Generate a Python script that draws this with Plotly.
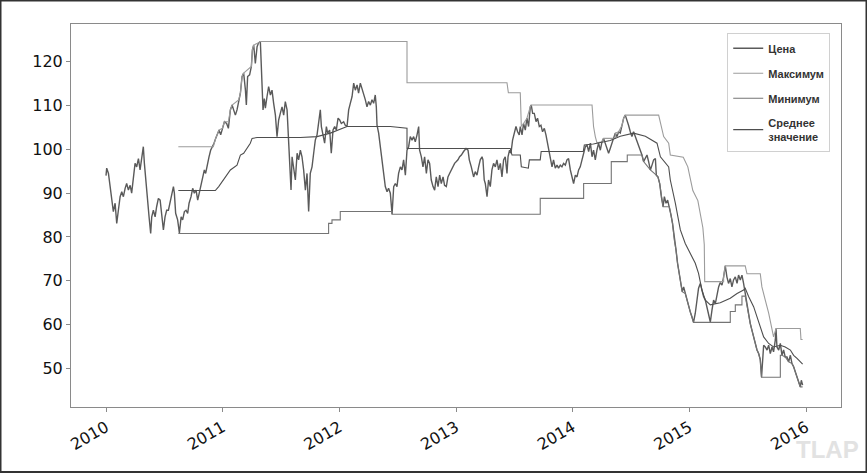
import plotly.graph_objects as go

# ---------------- data (decimal years) ----------------
price_t = [
 2010.000,2010.006,2010.021,2010.035,2010.049,2010.063,2010.078,2010.092,2010.106,2010.121,
 2010.135,2010.149,2010.164,2010.177,2010.192,2010.207,2010.220,2010.235,2010.249,2010.263,
 2010.278,2010.292,2010.306,2010.320,2010.329,2010.340,2010.357,2010.369,2010.383,2010.392,
 2010.406,2010.421,2010.434,2010.449,2010.464,2010.477,2010.492,2010.506,2010.520,2010.535,
 2010.549,2010.563,2010.578,2010.586,2010.597,2010.614,2010.629,2010.644,2010.657,2010.672,
 2010.686,2010.700,2010.712,2010.729,2010.743,2010.757,2010.772,2010.786,2010.800,2010.815,
 2010.829,2010.843,2010.854,2010.869,2010.883,2010.897,2010.912,2010.926,2010.940,2010.955,
 2010.969,2010.983,2010.997,2011.015,2011.034,2011.049,2011.066,2011.081,2011.094,2011.109,
 2011.123,2011.137,2011.152,2011.166,2011.180,2011.195,2011.203,2011.214,2011.231,2011.246,
 2011.255,2011.266,2011.274,2011.280,2011.295,2011.308,2011.323,2011.331,2011.338,2011.346,
 2011.357,2011.366,2011.380,2011.394,2011.409,2011.423,2011.437,2011.452,2011.466,2011.480,
 2011.494,2011.509,2011.523,2011.537,2011.552,2011.566,2011.574,2011.586,2011.595,2011.608,
 2011.623,2011.638,2011.651,2011.666,2011.680,2011.694,2011.709,2011.723,2011.737,2011.751,
 2011.766,2011.780,2011.794,2011.809,2011.823,2011.837,2011.846,2011.860,2011.874,2011.889,
 2011.900,2011.917,2011.931,2011.946,2011.960,2011.974,2011.989,2012.003,2012.017,2012.037,
 2012.051,2012.066,2012.080,2012.094,2012.109,2012.123,2012.137,2012.152,2012.165,2012.180,
 2012.195,2012.208,2012.223,2012.237,2012.251,2012.266,2012.280,2012.294,2012.308,2012.317,
 2012.323,2012.337,2012.351,2012.366,2012.380,2012.394,2012.409,2012.422,2012.437,2012.452,
 2012.466,2012.480,2012.494,2012.508,2012.523,2012.537,2012.551,2012.566,2012.580,2012.594,
 2012.608,2012.623,2012.637,2012.651,2012.666,2012.680,2012.688,2012.703,2012.717,2012.731,
 2012.746,2012.760,2012.774,2012.788,2012.803,2012.817,2012.831,2012.846,2012.860,2012.874,
 2012.889,2012.902,2012.917,2012.931,2012.945,2012.960,2012.974,2012.988,2013.003,2013.017,
 2013.031,2013.046,2013.065,2013.086,2013.103,2013.114,2013.131,2013.151,2013.165,2013.180,
 2013.194,2013.208,2013.223,2013.231,2013.242,2013.251,2013.266,2013.279,2013.294,2013.308,
 2013.322,2013.337,2013.351,2013.365,2013.380,2013.394,2013.408,2013.422,2013.437,2013.446,
 2013.459,2013.471,2013.485,2013.500,2013.514,2013.528,2013.542,2013.551,2013.566,2013.579,
 2013.594,2013.608,2013.622,2013.637,2013.645,2013.657,2013.671,2013.686,2013.699,2013.714,
 2013.728,2013.742,2013.757,2013.771,2013.785,2013.794,2013.808,2013.823,2013.836,2013.851,
 2013.866,2013.879,2013.894,2013.908,2013.922,2013.937,2013.951,2013.965,2013.980,2014.008,
 2014.023,2014.037,2014.051,2014.065,2014.080,2014.094,2014.109,2014.123,2014.137,2014.152,
 2014.166,2014.179,2014.194,2014.208,2014.222,2014.237,2014.251,2014.265,2014.280,2014.294,
 2014.308,2014.322,2014.337,2014.351,2014.365,2014.380,2014.394,2014.408,2014.423,2014.437,
 2014.451,2014.466,2014.479,2014.494,2014.508,2014.522,2014.537,2014.551,2014.565,2014.580,
 2014.594,2014.608,2014.623,2014.637,2014.651,2014.666,2014.680,2014.694,2014.709,2014.717,
 2014.731,2014.746,2014.760,2014.775,2014.786,2014.800,2014.814,2014.829,2014.843,2014.856,
 2014.871,2014.886,2014.899,2014.914,2014.928,2014.939,2014.951,2014.965,2014.979,2014.993,
 2015.008,2015.022,2015.036,2015.051,2015.065,2015.079,2015.094,2015.108,2015.122,2015.137,
 2015.151,2015.165,2015.180,2015.194,2015.208,2015.223,2015.237,2015.251,2015.265,2015.280,
 2015.294,2015.308,2015.322,2015.336,2015.351,2015.365,2015.379,2015.394,2015.409,2015.422,
 2015.437,2015.451,2015.465,2015.479,2015.494,2015.508,2015.522,2015.537,2015.551,2015.566,
 2015.580,2015.594,2015.608,2015.619,2015.630,2015.637,2015.651,2015.666,2015.680,2015.694,
 2015.709,2015.722,2015.737,2015.743,2015.751,2015.766,2015.780,2015.794,2015.808,2015.822,
 2015.837,2015.851,2015.866,2015.880,2015.894,2015.908,2015.923,2015.937,2015.951,2015.960,
 2015.971]
price_v = [
 94.0,95.7,94.5,91.5,89.2,85.8,87.7,83.1,86.1,89.2,
 90.3,89.2,91.1,92.2,90.7,91.8,90.0,93.7,96.8,96.0,
 97.9,95.3,98.3,100.6,96.8,93.0,89.2,84.6,80.8,84.6,
 86.1,84.6,86.9,88.8,88.4,85.4,81.6,84.6,86.1,86.1,
 87.7,90.0,91.5,90.0,85.4,83.9,80.9,84.6,83.9,85.8,
 86.1,85.4,87.7,89.2,91.1,90.0,90.7,88.4,90.0,91.5,
 93.7,95.3,94.5,96.8,98.3,99.8,100.6,101.4,102.5,103.7,
 104.4,103.3,104.8,106.3,105.9,104.8,109.0,110.1,109.0,107.8,
 109.0,111.3,112.8,116.6,117.4,113.5,110.1,116.6,117.0,118.9,
 122.7,123.8,121.1,119.6,123.4,124.3,124.6,118.9,115.1,109.0,
 111.6,109.4,112.0,114.3,112.4,113.5,110.5,107.8,102.9,106.7,
 108.2,109.7,107.8,110.9,109.0,102.1,98.3,90.7,98.3,95.3,
 93.0,99.1,97.6,99.8,98.3,95.3,90.7,94.5,85.8,94.5,
 96.0,99.1,102.1,103.3,105.9,109.0,105.2,102.9,101.4,105.2,
 103.7,104.4,99.1,104.4,105.2,104.4,107.1,106.7,105.9,106.3,
 105.5,105.2,109.0,110.5,112.0,115.1,113.5,114.7,112.8,115.1,
 113.9,112.8,111.3,109.7,110.9,110.1,111.3,110.5,112.4,109.7,
 105.5,103.7,100.6,97.6,95.3,91.5,90.3,91.1,90.0,85.2,
 91.5,92.2,91.5,94.5,96.0,95.3,97.6,94.1,99.8,100.6,
 102.9,102.1,102.9,101.7,103.3,105.2,99.8,98.3,96.0,98.3,
 94.5,97.6,96.8,93.0,91.5,90.7,93.7,91.5,94.1,92.2,
 93.7,91.8,91.5,93.7,94.5,95.3,96.0,96.8,97.2,97.6,
 98.3,98.7,99.5,100.2,99.8,97.6,96.0,93.7,94.9,94.1,
 96.0,97.6,98.3,97.6,93.0,92.2,89.2,93.0,91.5,95.3,
 96.8,96.0,97.6,95.3,96.8,93.7,97.6,98.3,94.5,98.3,
 99.8,99.1,102.1,103.7,105.2,104.0,103.3,105.2,103.3,105.9,
 104.4,107.1,105.2,109.7,110.1,108.2,108.2,106.3,107.1,105.2,
 105.5,104.0,104.8,103.3,101.4,99.5,98.3,96.0,97.6,95.7,
 96.4,95.7,96.4,96.0,96.8,96.4,97.6,97.9,95.3,92.2,
 94.1,93.7,95.3,96.0,97.6,99.1,100.6,101.0,99.5,101.4,
 98.3,99.8,97.6,99.8,101.4,99.8,101.7,102.5,101.4,100.2,
 99.1,100.2,101.4,102.5,103.7,102.9,104.0,103.7,105.5,107.1,
 107.8,106.7,105.5,104.0,102.9,104.0,102.9,101.7,100.9,99.8,
 98.7,97.2,97.9,98.7,97.2,95.3,96.4,97.6,97.9,94.1,
 93.7,92.2,89.2,86.9,89.2,87.7,88.4,86.9,85.0,83.1,
 79.3,77.0,74.0,71.7,68.6,67.5,68.6,67.1,65.6,64.1,
 62.9,61.8,60.5,62.6,65.6,68.3,69.4,67.5,66.4,65.6,
 64.1,62.2,60.6,63.3,65.6,64.8,67.1,68.6,69.6,69.0,
 70.9,73.4,70.9,69.4,70.5,68.6,70.2,70.9,69.4,71.3,
 70.2,71.3,69.4,67.1,64.1,61.8,60.3,58.7,57.2,55.7,
 54.2,53.4,52.0,48.0,53.0,55.3,54.9,54.2,55.3,53.4,
 54.9,53.8,56.5,59.1,54.9,54.2,55.7,53.0,54.2,52.6,
 52.6,51.5,53.0,51.1,50.4,49.2,48.1,46.6,45.8,47.3,
 46.2]

max_t = [2010.620,2010.920,2010.940,2010.955,2010.969,2010.997,2011.015,2011.049,2011.066,2011.081,
         2011.137,2011.152,2011.166,2011.180,2011.246,2011.255,2011.266,2011.308,2011.323,2012.580,
         2012.580,2013.437,2013.449,2013.551,2013.560,2013.579,2013.608,2013.637,2013.645,2014.166,
         2014.179,2014.194,2014.208,2014.251,2014.265,2014.365,2014.365,2014.394,2014.423,2014.437,
         2014.451,2014.737,2014.752,2014.780,2014.823,2014.837,2014.948,2014.987,2015.030,2015.073,
         2015.116,2015.128,2015.132,2015.294,2015.294,2015.308,2015.479,2015.494,2015.608,2015.622,
         2015.651,2015.680,2015.722,2015.743,2015.951,2015.957,2015.971]
max_v = [100.6,100.6,102.5,103.7,104.4,104.8,106.3,106.3,109.0,110.1,
         111.3,112.8,116.6,117.4,118.9,122.7,123.8,124.3,124.6,124.6,
         115.2,115.2,112.9,112.9,105.2,105.9,107.1,109.7,110.1,110.1,
         105.2,102.9,101.5,101.7,102.5,102.5,103.7,104.0,105.5,107.1,
         107.8,107.8,105.9,102.9,101.4,98.7,98.2,96.0,90.6,88.3,
         82.1,78.3,69.8,69.8,70.9,73.4,73.4,71.6,71.6,68.6,
         65.6,62.6,57.2,59.1,59.1,56.6,56.6]

min_t = [2010.620,2011.908,2011.908,2011.937,2011.937,2012.008,2012.008,2012.452,2012.452,2013.722,
         2013.722,2014.094,2014.094,2014.331,2014.331,2014.468,2014.468,2014.594,2014.608,2014.666,
         2014.717,2014.731,2014.746,2014.760,2014.775,2014.829,2014.843,2014.856,2014.871,2014.886,
         2014.899,2014.914,2014.928,2014.939,2014.965,2014.979,2014.993,2015.008,2015.022,2015.036,
         2015.351,2015.351,2015.394,2015.394,2015.451,2015.451,2015.479,2015.494,2015.508,2015.522,
         2015.537,2015.551,2015.566,2015.580,2015.594,2015.608,2015.619,2015.780,2015.780,2015.794,
         2015.822,2015.851,2015.880,2015.894,2015.908,2015.923,2015.937,2015.951,2015.971]
min_v = [80.8,80.8,83.1,83.1,83.9,83.9,85.8,85.8,85.2,85.2,
         88.8,88.8,92.2,92.2,97.2,97.2,98.7,98.7,97.2,95.3,
         94.1,93.7,92.2,89.2,86.9,86.9,85.0,83.1,79.3,77.0,
         74.0,71.7,68.6,67.5,67.1,65.6,64.1,62.9,61.8,60.5,
         60.5,63.0,63.0,64.5,64.5,66.5,66.5,64.1,61.8,60.3,
         58.7,57.2,55.7,54.2,53.4,52.0,48.0,48.0,53.0,53.0,
         52.6,51.5,51.1,50.4,49.2,48.1,46.6,45.8,45.8]

mean_t = [2010.620,2010.937,2010.966,2010.995,2011.023,2011.066,2011.123,2011.152,2011.180,2011.209,
          2011.237,2011.252,2011.295,2011.666,2011.809,2011.923,2012.066,2012.437,2012.580,2012.580,
          2013.465,2013.480,2013.551,2013.560,2013.620,2013.629,2013.722,2013.730,2014.091,2014.100,
          2014.177,2014.322,2014.408,2014.522,2014.623,2014.723,2014.752,2014.823,2014.837,2014.880,
          2014.923,2014.965,2015.008,2015.051,2015.079,2015.108,2015.137,2015.180,2015.265,2015.351,
          2015.409,2015.465,2015.479,2015.508,2015.551,2015.580,2015.608,2015.637,2015.680,2015.722,
          2015.780,2015.822,2015.866,2015.894,2015.923,2015.951,2015.971]
mean_v = [90.6,90.6,91.5,92.6,93.7,95.3,96.4,98.7,99.1,100.2,
          101.4,102.5,102.7,102.7,102.9,103.7,105.2,105.2,104.8,100.2,
          100.2,98.7,98.7,96.0,95.7,97.6,97.6,99.5,99.5,101.0,
          101.2,102.0,103.0,103.7,103.0,101.4,98.3,96.0,93.0,87.7,
          81.6,78.5,76.3,74.0,71.7,67.9,65.6,64.5,65.0,66.0,
          67.1,67.9,68.3,66.4,64.1,61.8,59.5,57.2,55.7,54.9,
          55.3,54.9,54.2,53.0,52.3,51.5,51.0]

series_names = ["Цена", "Максимум", "Минимум", "Среднее<br>значение"]
year_ticks = [2010, 2011, 2012, 2013, 2014, 2015, 2016]
value_ticks = [50, 60, 70, 80, 90, 100, 110, 120]

# ---------------- figure ----------------
W, H = 867, 473
ML, MR, MT, MB = 71, 26, 24, 66

fig = go.Figure()
styles = [
    (price_t, price_v, "#5a5a5a", 1.4),
    (max_t, max_v, "#9c9c9c", 1.1),
    (min_t, min_v, "#747474", 1.1),
    (mean_t, mean_v, "#4e4e4e", 1.1),
]
for i, (name, (tx, vy, col, w)) in enumerate(zip(series_names, styles)):
    fig.add_trace(go.Scatter(
        x=tx, y=vy, mode="lines", name=f"<b>{name}</b>", legendgroup=f"g{i}",
        line=dict(color=col, width=w), hoverinfo="skip"))

axis_common = dict(showline=True, mirror=True, linecolor="#8a8a8a", linewidth=1,
                   ticks="outside", ticklen=4, tickcolor="#8a8a8a", showgrid=False,
                   zeroline=False,
                   tickfont=dict(family="DejaVu Sans", size=16, color="#111"))

fig.update_layout(
    width=W, height=H,
    margin=dict(l=ML, r=MR, t=MT, b=MB, pad=0),
    paper_bgcolor="white", plot_bgcolor="white",
    xaxis=dict(range=[2009.70, 2016.30], tickvals=year_ticks,
               ticktext=[str(y) for y in year_ticks], tickangle=-30, **axis_common),
    yaxis=dict(range=[41.2, 128.6], tickvals=value_ticks,
               ticktext=[str(v) for v in value_ticks], **axis_common),
    legend=dict(x=0.986, y=0.977, xanchor="right", yanchor="top",
                bgcolor="white", bordercolor="#d0d0d0", borderwidth=1,
                tracegroupgap=6, itemwidth=30,
                font=dict(family="Liberation Sans", size=11, color="#333")),
    showlegend=True,
)

pw = W - ML - MR
ph = H - MT - MB
fig.add_shape(type="rect", xref="paper", yref="paper",
              x0=-ML / pw + 0.5 / pw, x1=1 + MR / pw - 0.5 / pw,
              y0=-MB / ph + 1 / ph, y1=1 + MT / ph - 0.5 / ph,
              line=dict(color="#333", width=2), fillcolor="rgba(0,0,0,0)", layer="above")

fig.add_annotation(text="<b>TLAP</b>", xref="paper", yref="paper",
                   x=1 + (MR - 6) / pw, y=-(MB - 8) / ph, xanchor="right", yanchor="bottom",
                   showarrow=False, font=dict(family="Liberation Sans", size=24, color="#e2e2e2"))

fig.write_html("out.html")
